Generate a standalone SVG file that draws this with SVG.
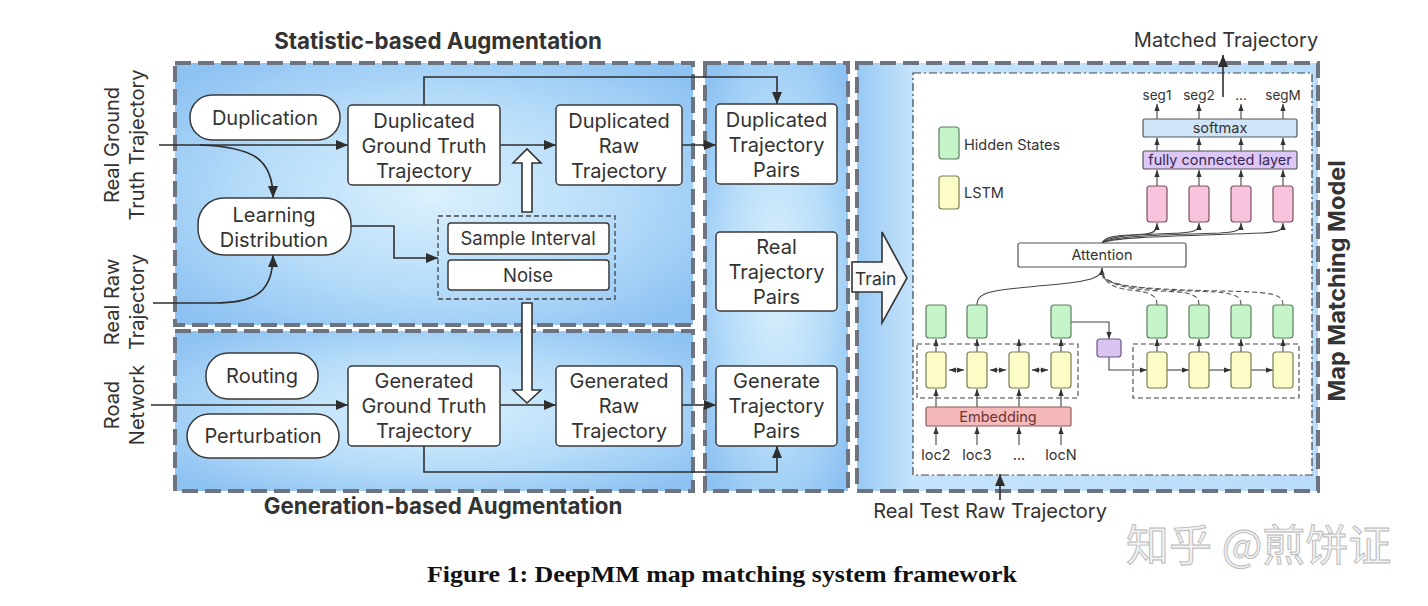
<svg xmlns="http://www.w3.org/2000/svg" width="1428" height="606" viewBox="0 0 1428 606">
<defs>
<radialGradient id="gPanel" cx="50%" cy="50%" r="65%">
<stop offset="0" stop-color="#dbf1fd"/>
<stop offset="0.55" stop-color="#b6dcf9"/>
<stop offset="1" stop-color="#8dc2f2"/>
</radialGradient>
<linearGradient id="gRight" x1="0" y1="0" x2="1" y2="0">
<stop offset="0" stop-color="#98c9f4"/>
<stop offset="0.12" stop-color="#c5e3fb"/>
<stop offset="1" stop-color="#b9dcfa"/>
</linearGradient>
<marker id="ah" viewBox="0 0 12 10" refX="12" refY="5" markerWidth="12" markerHeight="10" markerUnits="userSpaceOnUse" orient="auto"><path d="M0,0 L12,5 L0,10 z" fill="#2e2e2e"/></marker>
<marker id="as" viewBox="0 0 8 6" refX="8" refY="3" markerWidth="7" markerHeight="6" markerUnits="userSpaceOnUse" orient="auto-start-reverse"><path d="M0,0 L8,3 L0,6 z" fill="#333"/></marker>
</defs>
<style>
.panel{fill:url(#gPanel);stroke:#6b7480;stroke-width:4;stroke-dasharray:16 7}
.node{fill:#fff;stroke:#3a3a3a;stroke-width:1.5}
.t{font-family:Inter,'Open Sans',sans-serif;font-size:20px;fill:#333;text-anchor:middle}
.lbl{font-family:Inter,'Open Sans',sans-serif;font-size:20px;fill:#333;text-anchor:middle}
.ttl{font-family:Inter,'Open Sans',sans-serif;font-size:22.3px;font-weight:bold;fill:#333;text-anchor:middle}
.m{font-family:Inter,'Open Sans',sans-serif;font-size:14.5px;fill:#333;text-anchor:middle}
.ml{font-family:Inter,'Open Sans',sans-serif;font-size:14.5px;fill:#333}
.c{fill:none;stroke:#2e2e2e;stroke-width:1.6}
.cs{fill:none;stroke:#444;stroke-width:1.1}
.cd{fill:none;stroke:#555;stroke-width:1.1;stroke-dasharray:5 3}
.hollow{fill:#fff;stroke:#333;stroke-width:1.6}
.hs{fill:#c4f4c8;stroke:#5d7d60;stroke-width:1.2}
.ls{fill:#fbfcc6;stroke:#7d7d55;stroke-width:1.2}
.pk{fill:#f8c3dc;stroke:#7d5064;stroke-width:1.2}
.dbox{fill:none;stroke:#444;stroke-width:1.1;stroke-dasharray:5 3}
</style>
<rect width="1428" height="606" fill="#fff"/>

<g id="panels">
<rect class="panel" x="175" y="63" width="518" height="262"/>
<rect class="panel" x="175" y="331" width="518" height="160"/>
<rect class="panel" x="705" y="63" width="143" height="428"/>
<rect x="857" y="63" width="461" height="428" fill="url(#gRight)" stroke="#6b7480" stroke-width="4" stroke-dasharray="16 7"/>
<rect x="913" y="73" width="399" height="402" fill="#fff" stroke="#444" stroke-width="1.2" stroke-dasharray="8 3 2 3"/>
</g>

<g id="titles">
<text class="ttl" x="438" y="49">Statistic-based Augmentation</text>
<text class="ttl" x="443" y="514">Generation-based Augmentation</text>
<text class="ttl" transform="translate(1345,281) rotate(-90)" style="font-size:23.5px">Map Matching Model</text>
<text class="lbl" x="1226" y="47">Matched Trajectory</text>
<text class="lbl" x="990" y="518">Real Test Raw Trajectory</text>
</g>

<g id="inputs">
<text class="lbl" transform="translate(119,145) rotate(-90)"><tspan x="0" y="0">Real Ground</tspan><tspan x="0" dy="24.5">Truth Trajectory</tspan></text>
<text class="lbl" transform="translate(119,302) rotate(-90)"><tspan x="0" y="0">Real Raw</tspan><tspan x="0" dy="24.5">Trajectory</tspan></text>
<text class="lbl" transform="translate(119,405) rotate(-90)"><tspan x="0" y="0">Road</tspan><tspan x="0" dy="24.5">Network</tspan></text>
</g>

<g id="connectors">
<path class="c" d="M159,145 H348" marker-end="url(#ah)"/>
<path class="c" d="M200,145 C255,147 273,160 273,198" marker-end="url(#ah)"/>
<path class="c" d="M153,303 H215 C258,303 273,290 273,255" marker-end="url(#ah)"/>
<path class="c" d="M351,226 H394 V258 H438" marker-end="url(#ah)"/>
<path class="c" d="M500,145 H556" marker-end="url(#ah)"/>
<path class="c" d="M424,105 V77 H777 V104" marker-end="url(#ah)"/>
<path class="c" d="M682,145 H716" marker-end="url(#ah)"/>
<path class="c" d="M151,405 H348" marker-end="url(#ah)"/>
<path class="c" d="M500,405 H556" marker-end="url(#ah)"/>
<path class="c" d="M682,405 H716" marker-end="url(#ah)"/>
<path class="c" d="M424,446 V472 H777 V446" marker-end="url(#ah)"/>
<polygon class="hollow" points="522,212 522,163 513,163 527,149 541,163 532,163 532,212"/>
<polygon class="hollow" points="522,303 522,390 513,390 527,403 541,390 532,390 532,303"/>
<path class="c" d="M1223,97 V55" marker-end="url(#ah)"/>
<path class="c" d="M1000,500 V474" marker-end="url(#ah)"/>
<path class="cs" d="M936,445 V427" marker-end="url(#as)"/>
<path class="cs" d="M977,445 V427" marker-end="url(#as)"/>
<path class="cs" d="M1019,445 V427" marker-end="url(#as)"/>
<path class="cs" d="M1061,445 V427" marker-end="url(#as)"/>
<path class="cs" d="M936,407 V389" marker-end="url(#as)"/>
<path class="cs" d="M977,407 V389" marker-end="url(#as)"/>
<path class="cs" d="M1019,407 V389" marker-end="url(#as)"/>
<path class="cs" d="M1061,407 V389" marker-end="url(#as)"/>
<path class="cs" d="M936,352 V339" marker-end="url(#as)"/>
<path class="cs" d="M977,352 V339" marker-end="url(#as)"/>
<path class="cs" d="M1019,352 V339" marker-end="url(#as)"/>
<path class="cs" d="M1061,352 V339" marker-end="url(#as)"/>
<path class="cs" d="M949,370 H964" marker-start="url(#as)" marker-end="url(#as)"/>
<path class="cs" d="M990,370 H1006" marker-start="url(#as)" marker-end="url(#as)"/>
<path class="cs" d="M1032,370 H1048" marker-start="url(#as)" marker-end="url(#as)"/>
<path class="cs" d="M1071,322 H1109 V339" marker-end="url(#as)"/>
<path class="cs" d="M1109,357 V370 H1147" marker-end="url(#as)"/>
<path class="cs" d="M1167,370 H1189" marker-end="url(#as)"/>
<path class="cs" d="M1209,370 H1231" marker-end="url(#as)"/>
<path class="cs" d="M1251,370 H1273" marker-end="url(#as)"/>
<path class="cs" d="M1157,352 V339" marker-end="url(#as)"/>
<path class="cs" d="M1199,352 V339" marker-end="url(#as)"/>
<path class="cs" d="M1241,352 V339" marker-end="url(#as)"/>
<path class="cs" d="M1283,352 V339" marker-end="url(#as)"/>
<path class="cs" d="M977,305 C977,292 990,290 1050,285 C1092,281 1102,278 1102,268" marker-end="url(#as)"/>
<path class="cd" d="M1157,305 C1157,295 1150,292 1130,290 C1110,288 1102,280 1102,268"/>
<path class="cd" d="M1199,305 C1199,294 1190,292 1160,291 C1120,289 1104,282 1102,272"/>
<path class="cd" d="M1241,305 C1241,294 1232,292 1190,291 C1130,289 1106,284 1102,274"/>
<path class="cd" d="M1283,305 C1283,294 1274,292 1220,291 C1140,289 1108,286 1102,276"/>
<path class="cs" d="M1102,243 C1106,234 1125,236 1145,234 C1155,233 1157,230 1157,223" marker-end="url(#as)"/>
<path class="cs" d="M1102,243 C1108,235 1140,235 1180,233 C1196,232 1199,230 1199,223" marker-end="url(#as)"/>
<path class="cs" d="M1102,243 C1110,236 1160,235 1220,233 C1238,232 1241,230 1241,223" marker-end="url(#as)"/>
<path class="cs" d="M1102,243 C1112,237 1180,236 1262,233 C1280,232 1283,230 1283,223" marker-end="url(#as)"/>
<path class="cs" d="M1157,186 V170" marker-end="url(#as)"/>
<path class="cs" d="M1199,186 V170" marker-end="url(#as)"/>
<path class="cs" d="M1241,186 V170" marker-end="url(#as)"/>
<path class="cs" d="M1283,186 V170" marker-end="url(#as)"/>
<path class="cs" d="M1157,151 V138" marker-end="url(#as)"/>
<path class="cs" d="M1199,151 V138" marker-end="url(#as)"/>
<path class="cs" d="M1241,151 V138" marker-end="url(#as)"/>
<path class="cs" d="M1283,151 V138" marker-end="url(#as)"/>
<path class="cs" d="M1157,119 V104" marker-end="url(#as)"/>
<path class="cs" d="M1199,119 V104" marker-end="url(#as)"/>
<path class="cs" d="M1241,119 V104" marker-end="url(#as)"/>
<path class="cs" d="M1283,119 V104" marker-end="url(#as)"/>
</g>

<g id="duplication">
<rect class="node" x="190" y="95" width="150" height="45" rx="22"/>
<text class="t" x="265" y="125">Duplication</text>
</g>
<g id="learning-distribution">
<rect class="node" x="198" y="198" width="153" height="57" rx="26"/>
<text class="t"><tspan x="274" y="222">Learning</tspan><tspan x="274" y="247">Distribution</tspan></text>
</g>
<g id="dup-gt">
<rect class="node" x="348" y="105" width="152" height="80" rx="4"/>
<text class="t"><tspan x="424" y="128">Duplicated</tspan><tspan x="424" y="153">Ground Truth</tspan><tspan x="424" y="178">Trajectory</tspan></text>
</g>
<g id="dup-raw">
<rect class="node" x="556" y="105" width="126" height="80" rx="4"/>
<text class="t"><tspan x="619" y="128">Duplicated</tspan><tspan x="619" y="153">Raw</tspan><tspan x="619" y="178">Trajectory</tspan></text>
</g>
<g id="noise-group">
<rect class="dbox" x="438" y="216" width="177" height="83" style="stroke-width:1.3"/>
<rect class="node" x="448" y="223" width="161" height="31" rx="3"/>
<text class="t" x="528" y="245" style="font-size:18.5px">Sample Interval</text>
<rect class="node" x="448" y="260" width="161" height="30" rx="3"/>
<text class="t" x="528" y="282" style="font-size:18.5px">Noise</text>
</g>
<g id="routing">
<rect class="node" x="206" y="353" width="112" height="46" rx="22"/>
<text class="t" x="262" y="383">Routing</text>
</g>
<g id="perturbation">
<rect class="node" x="187" y="414" width="152" height="44" rx="22"/>
<text class="t" x="263" y="443">Perturbation</text>
</g>
<g id="gen-gt">
<rect class="node" x="348" y="366" width="152" height="80" rx="4"/>
<text class="t"><tspan x="424" y="388">Generated</tspan><tspan x="424" y="413">Ground Truth</tspan><tspan x="424" y="438">Trajectory</tspan></text>
</g>
<g id="gen-raw">
<rect class="node" x="556" y="366" width="126" height="80" rx="4"/>
<text class="t"><tspan x="619" y="388">Generated</tspan><tspan x="619" y="413">Raw</tspan><tspan x="619" y="438">Trajectory</tspan></text>
</g>
<g id="dup-pairs">
<rect class="node" x="716" y="104" width="121" height="80" rx="4"/>
<text class="t"><tspan x="776.5" y="127">Duplicated</tspan><tspan x="776.5" y="152">Trajectory</tspan><tspan x="776.5" y="177">Pairs</tspan></text>
</g>
<g id="real-pairs">
<rect class="node" x="716" y="232" width="121" height="79" rx="4"/>
<text class="t"><tspan x="776.5" y="254">Real</tspan><tspan x="776.5" y="279">Trajectory</tspan><tspan x="776.5" y="304">Pairs</tspan></text>
</g>
<g id="gen-pairs">
<rect class="node" x="716" y="366" width="121" height="80" rx="4"/>
<text class="t"><tspan x="776.5" y="388">Generate</tspan><tspan x="776.5" y="413">Trajectory</tspan><tspan x="776.5" y="438">Pairs</tspan></text>
</g>
<g id="train">
<polygon points="852,262 882,262 882,232 907,278 882,323 882,292 852,292" fill="#fafafa" stroke="#333" stroke-width="1.6"/>
<text class="ml" x="855" y="285" style="font-size:17.5px">Train</text>
</g>

<g id="legend">
<rect class="hs" x="939" y="127" width="20" height="32" rx="3"/>
<text class="ml" x="964" y="150">Hidden States</text>
<rect class="ls" x="939" y="176" width="20" height="33" rx="3"/>
<text class="ml" x="964" y="198">LSTM</text>
</g>
<g id="output-layers">
<text class="m" x="1157" y="100" style="font-size:13.5px">seg1</text>
<text class="m" x="1199" y="100" style="font-size:13.5px">seg2</text>
<text class="m" x="1241" y="100" style="font-size:13.5px">...</text>
<text class="m" x="1283" y="100" style="font-size:13.5px">segM</text>
<rect x="1143" y="119" width="154" height="18" rx="2" fill="#cfe4f8" stroke="#555" stroke-width="1.2"/>
<text class="m" x="1220" y="133">softmax</text>
<rect x="1143" y="151" width="154" height="18" rx="2" fill="#dcc7f6" stroke="#555" stroke-width="1.2"/>
<text class="m" x="1220" y="165" style="fill:#3a2a55">fully connected layer</text>
<rect class="pk" x="1147" y="186" width="20" height="36" rx="3"/>
<rect class="pk" x="1189" y="186" width="20" height="36" rx="3"/>
<rect class="pk" x="1231" y="186" width="20" height="36" rx="3"/>
<rect class="pk" x="1273" y="186" width="20" height="36" rx="3"/>
</g>
<g id="attention">
<rect x="1018" y="243" width="168" height="24" rx="2" fill="#fff" stroke="#555" stroke-width="1.2"/>
<text class="m" x="1102" y="260">Attention</text>
</g>
<g id="encoder">
<rect class="dbox" x="917" y="344" width="161" height="54"/>
<rect class="hs" x="926" y="305" width="20" height="33" rx="3"/>
<rect class="hs" x="967" y="305" width="20" height="33" rx="3"/>
<rect class="hs" x="1051" y="305" width="20" height="33" rx="3"/>
<rect class="ls" x="926" y="352" width="20" height="36" rx="3"/>
<rect class="ls" x="967" y="352" width="20" height="36" rx="3"/>
<rect class="ls" x="1009" y="352" width="20" height="36" rx="3"/>
<rect class="ls" x="1051" y="352" width="20" height="36" rx="3"/>
<rect x="926" y="407" width="145" height="19" rx="2" fill="#f5b9b9" stroke="#8a5a5a" stroke-width="1.2"/>
<text class="m" x="998" y="422" style="fill:#6a3535">Embedding</text>
<text class="m" x="936" y="460">loc2</text>
<text class="m" x="977" y="460">loc3</text>
<text class="m" x="1019" y="460">...</text>
<text class="m" x="1061" y="460">locN</text>
</g>
<g id="bridge">
<rect x="1097" y="339" width="24" height="18" rx="3" fill="#d9c3f1" stroke="#6a5a80" stroke-width="1.2"/>
</g>
<g id="decoder">
<rect class="dbox" x="1133" y="344" width="166" height="54"/>
<rect class="hs" x="1147" y="305" width="20" height="33" rx="3"/>
<rect class="hs" x="1189" y="305" width="20" height="33" rx="3"/>
<rect class="hs" x="1231" y="305" width="20" height="33" rx="3"/>
<rect class="hs" x="1273" y="305" width="20" height="33" rx="3"/>
<rect class="ls" x="1147" y="352" width="20" height="36" rx="3"/>
<rect class="ls" x="1189" y="352" width="20" height="36" rx="3"/>
<rect class="ls" x="1231" y="352" width="20" height="36" rx="3"/>
<rect class="ls" x="1273" y="352" width="20" height="36" rx="3"/>
</g>

<g id="caption">
<text x="722" y="582" text-anchor="middle" font-family="'Liberation Serif',serif" font-weight="bold" font-size="23" fill="#111" textLength="590" lengthAdjust="spacingAndGlyphs">Figure 1: DeepMM map matching system framework</text>
<text x="1126" y="561" font-family="'Noto Sans CJK SC',sans-serif" font-size="43" fill="#f2f2f2" stroke="#b8b8b8" stroke-width="0.9">知乎 @煎饼证</text>
</g>
</svg>
